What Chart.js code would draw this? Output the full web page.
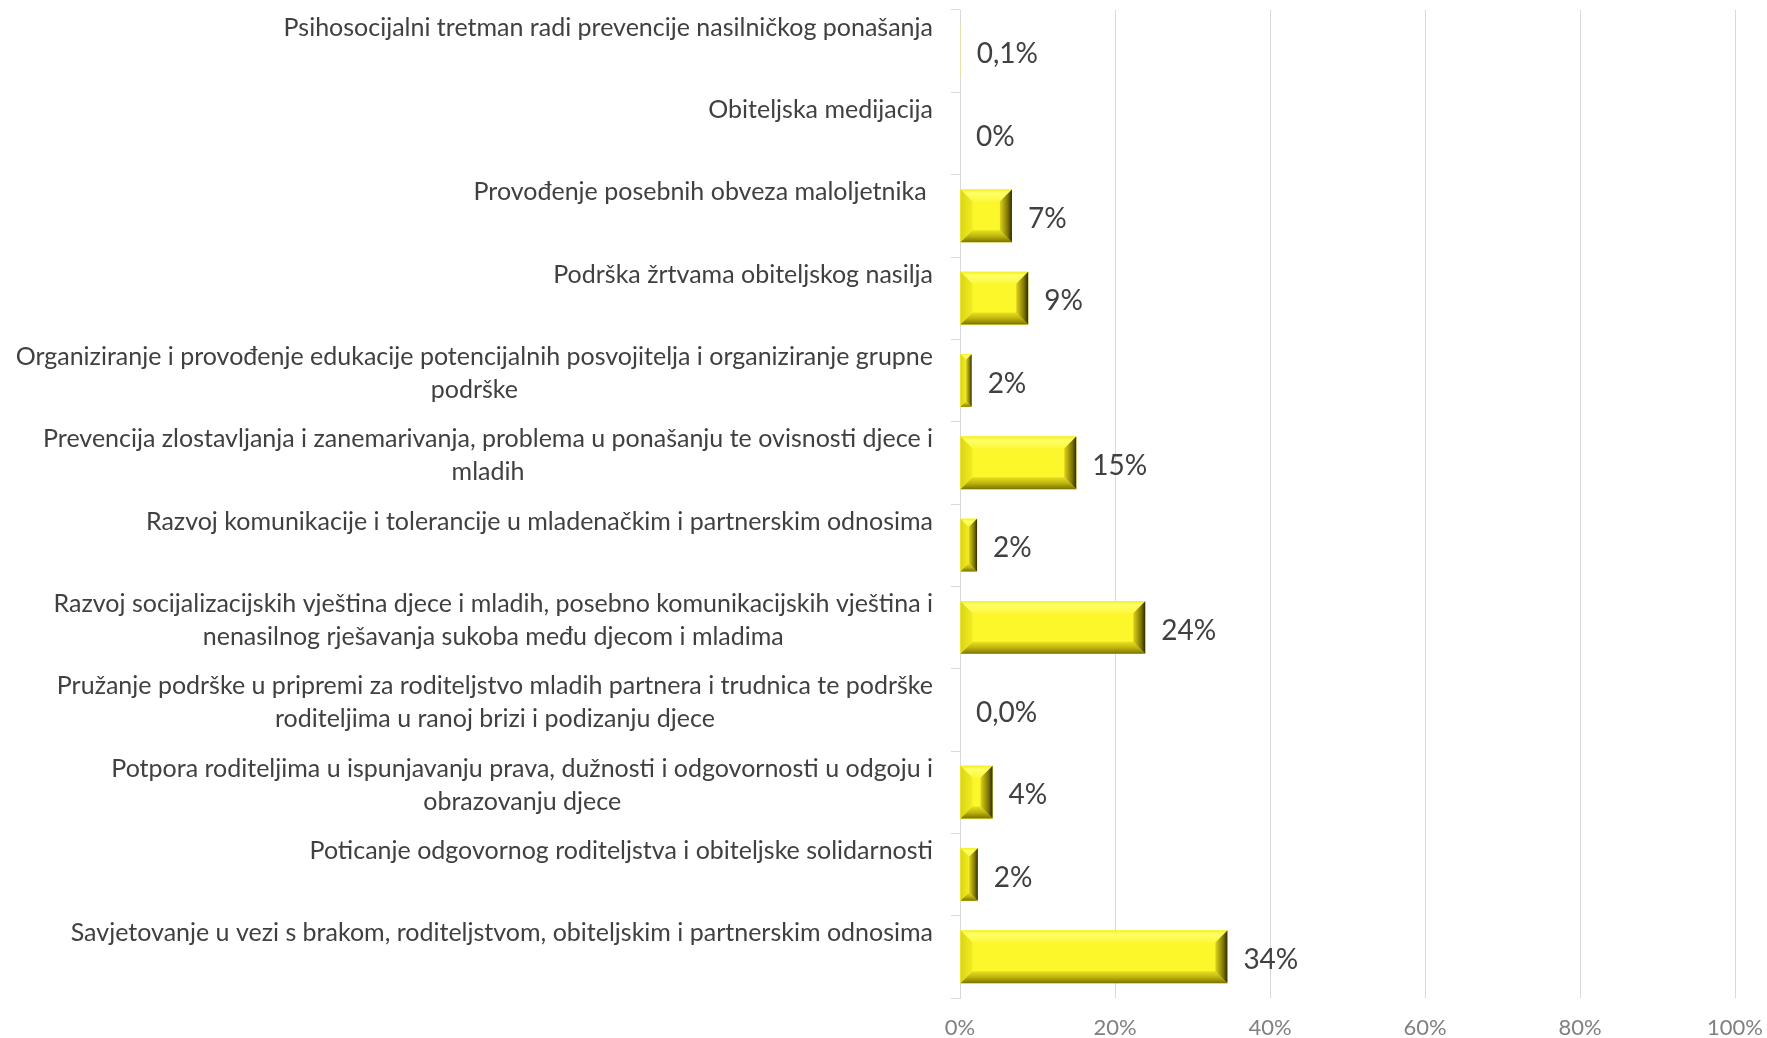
<!DOCTYPE html>
<html>
<head>
<meta charset="utf-8">
<script src="https://cdn.jsdelivr.net/npm/chart.js@4.4.1/dist/chart.umd.min.js"></script>
<style>
  html, body { margin: 0; padding: 0; background: #fff; overflow: hidden; }
  #wrap { width: 1767px; height: 1038px; position: relative; }
  #chart { display: block; }
</style>
</head>
<body>
<div id="wrap"><canvas id="chart"></canvas></div>
<script>
// Kategorije (jedan red = jedan element niza; prazan drugi red kao u Excelu)
const categories = [
  ['Psihosocijalni tretman radi prevencije nasilničkog ponašanja', ''],
  ['Obiteljska medijacija', ''],
  ['Provođenje posebnih obveza maloljetnika ', ''],
  ['Podrška žrtvama obiteljskog nasilja', ''],
  ['Organiziranje i provođenje edukacije potencijalnih posvojitelja i organiziranje grupne', 'podrške'],
  ['Prevencija zlostavljanja i zanemarivanja, problema u ponašanju te ovisnosti djece i', 'mladih'],
  ['Razvoj komunikacije i tolerancije u mladenačkim i partnerskim odnosima', ''],
  ['Razvoj socijalizacijskih vještina djece i mladih, posebno komunikacijskih vještina i', 'nenasilnog rješavanja sukoba među djecom i mladima'],
  ['Pružanje podrške u pripremi za roditeljstvo mladih partnera i trudnica te podrške', 'roditeljima u ranoj brizi i podizanju djece'],
  ['Potpora roditeljima u ispunjavanju prava, dužnosti i odgovornosti u odgoju i', 'obrazovanju djece'],
  ['Poticanje odgovornog roditeljstva i obiteljske solidarnosti', ''],
  ['Savjetovanje u vezi s brakom, roditeljstvom, obiteljskim i partnerskim odnosima', '']
];
const values = [0.1, 0, 6.7, 8.8, 1.5, 15.0, 2.2, 23.9, 0, 4.2, 2.3, 34.5];
const valueLabels = ['0,1%', '0%', '7%', '9%', '2%', '15%', '2%', '24%', '0,0%', '4%', '2%', '34%'];
const xTicks = [0, 20, 40, 60, 80, 100];

const FONT = 'Lato, "Open Sans", sans-serif';

// Bevel efekt + oznake podataka
const bevelPlugin = {
  id: 'bevel',
  afterDatasetsDraw(chart) {
    const ctx = chart.ctx;
    const meta = chart.getDatasetMeta(0);
    meta.data.forEach((el, i) => {
      const p = el.getProps(['x', 'y', 'base', 'height'], true);
      const l = Math.min(p.base, p.x), r = Math.max(p.base, p.x);
      const t = p.y - p.height / 2, b = p.y + p.height / 2;
      const w = r - l;
      if (w > 1.5) {
        const bv = Math.min(12, w / 2, p.height / 2);
        ctx.save();
        ctx.fillStyle = '#FBF72B';
        ctx.fillRect(l, t, w, p.height);
        // gore
        let g = ctx.createLinearGradient(0, t, 0, t + bv);
        g.addColorStop(0, '#F4EE22');
        g.addColorStop(0.3, '#FFFF6A');
        g.addColorStop(1, '#FCF83A');
        ctx.fillStyle = g;
        ctx.beginPath();
        ctx.moveTo(l, t); ctx.lineTo(r, t); ctx.lineTo(r - bv, t + bv); ctx.lineTo(l + bv, t + bv);
        ctx.closePath(); ctx.fill();
        // lijevo
        g = ctx.createLinearGradient(l, 0, l + bv, 0);
        g.addColorStop(0, '#DCD414');
        g.addColorStop(1, '#F2EC22');
        ctx.fillStyle = g;
        ctx.beginPath();
        ctx.moveTo(l, t); ctx.lineTo(l + bv, t + bv); ctx.lineTo(l + bv, b - bv); ctx.lineTo(l, b);
        ctx.closePath(); ctx.fill();
        // dolje
        g = ctx.createLinearGradient(0, b, 0, b - bv);
        g.addColorStop(0, '#7A7200');
        g.addColorStop(0.5, '#BDB50E');
        g.addColorStop(1, '#E8E020');
        ctx.fillStyle = g;
        ctx.beginPath();
        ctx.moveTo(l, b); ctx.lineTo(l + bv, b - bv); ctx.lineTo(r - bv, b - bv); ctx.lineTo(r, b);
        ctx.closePath(); ctx.fill();
        // desno
        g = ctx.createLinearGradient(r, 0, r - bv, 0);
        g.addColorStop(0, '#2E2A00');
        g.addColorStop(0.35, '#7E7604');
        g.addColorStop(1, '#DCD41C');
        ctx.fillStyle = g;
        ctx.beginPath();
        ctx.moveTo(r, t); ctx.lineTo(r, b); ctx.lineTo(r - bv, b - bv); ctx.lineTo(r - bv, t + bv);
        ctx.closePath(); ctx.fill();
        ctx.restore();
      }
      // oznaka vrijednosti
      ctx.save();
      ctx.font = '28px ' + FONT;
      ctx.fillStyle = '#404040';
      ctx.textAlign = 'left';
      ctx.textBaseline = 'middle';
      ctx.fillText(valueLabels[i], r + 16, p.y + 3);
      ctx.restore();
    });
  }
};

// Oznake kategorija: blok poravnat desno, redovi centrirani unutar bloka
const catLabelPlugin = {
  id: 'catLabels',
  afterDraw(chart) {
    const ctx = chart.ctx;
    const yScale = chart.scales.y;
    const right = chart.chartArea.left - 27;
    const lh = 33;
    ctx.save();
    ctx.font = '25px ' + FONT;
    ctx.fillStyle = '#404040';
    ctx.textAlign = 'center';
    ctx.textBaseline = 'middle';
    categories.forEach((lines, i) => {
      const cy = yScale.getPixelForTick(i) - 7;
      const blockW = Math.max(...lines.map(s => ctx.measureText(s).width));
      const cx = right - blockW / 2;
      const y0 = cy - (lines.length - 1) * lh / 2;
      lines.forEach((s, k) => ctx.fillText(s, cx, y0 + k * lh));
    });
    ctx.restore();
  }
};

const ctx = document.getElementById('chart').getContext('2d');
const chart = new Chart(ctx, {
  type: 'bar',
  data: {
    labels: categories,
    datasets: [{
      data: values,
      backgroundColor: '#FBF72B',
      borderWidth: 0,
      categoryPercentage: 0.64,
      barPercentage: 1
    }]
  },
  options: {
    indexAxis: 'y',
    responsive: true,
    maintainAspectRatio: false,
    animation: false,
    devicePixelRatio: 1,
    layout: { padding: { top: 10, right: 32, left: 0, bottom: 0 } },
    plugins: {
      legend: { display: false },
      tooltip: { enabled: false }
    },
    scales: {
      x: {
        min: 0,
        max: 100,
        afterBuildTicks: function(axis) {
          axis.ticks = xTicks.map(v => ({ value: v }));
        },
        afterFit: function(axis) { axis.height = 40; },
        grid: { color: '#D9D9D9', lineWidth: 1, drawTicks: true, tickLength: 17, tickColor: 'rgba(0,0,0,0)' },
        border: { display: false },
        ticks: {
          padding: 0,
          color: '#808080',
          font: { family: FONT, size: 22 },
          callback: function(v) { return v + '%'; }
        }
      },
      y: {
        afterFit: function(axis) { axis.width = 960; },
        grid: { drawOnChartArea: false, drawTicks: true, tickLength: 9, color: '#D9D9D9' },
        border: { display: true, color: '#D9D9D9', width: 1 },
        ticks: { display: false }
      }
    }
  },
  plugins: [bevelPlugin, catLabelPlugin]
});
</script>
</body>
</html>
